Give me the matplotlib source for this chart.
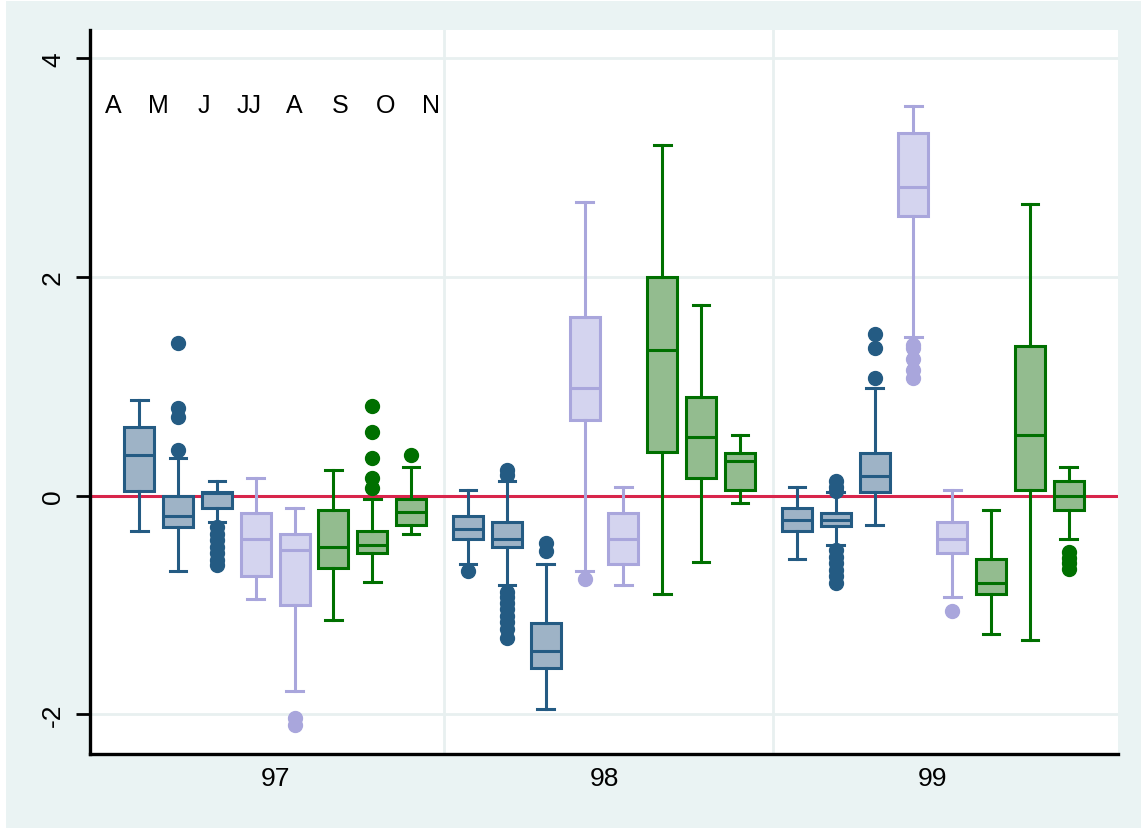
import matplotlib
matplotlib.use("Agg")
import matplotlib.pyplot as plt
import numpy as np

years = ["97", "98", "99"]
months = ["A", "M", "J", "JJ", "A", "S", "O", "N"]

# per year, one value per month
whishi_97 = [0.87, 0.34, 0.13, 0.16, -0.11, 0.23, -0.03, 0.26]
q3_97 = [0.63, 0.00, 0.03, -0.16, -0.35, -0.13, -0.32, -0.03]
med_97 = [0.37, -0.19, 0.02, -0.40, -0.50, -0.47, -0.45, -0.15]
q1_97 = [0.04, -0.29, -0.11, -0.74, -1.00, -0.66, -0.53, -0.27]
whislo_97 = [-0.32, -0.69, -0.24, -0.95, -1.79, -1.14, -0.79, -0.35]
fliers_97 = [[], [1.40, 0.80, 0.72, 0.42],
             [-0.29, -0.35, -0.41, -0.47, -0.53, -0.59, -0.64],
             [], [-2.04, -2.10], [], [0.82, 0.58, 0.34, 0.16, 0.07], [0.37]]

whishi_98 = [0.05, 0.13, -0.63, 2.69, 0.08, 3.21, 1.74, 0.55]
q3_98 = [-0.19, -0.24, -1.17, 1.63, -0.16, 2.00, 0.90, 0.39]
med_98 = [-0.31, -0.40, -1.42, 0.98, -0.40, 1.33, 0.54, 0.32]
q1_98 = [-0.40, -0.47, -1.58, 0.69, -0.63, 0.40, 0.16, 0.05]
whislo_98 = [-0.63, -0.82, -1.95, -0.69, -0.82, -0.90, -0.61, -0.07]
fliers_98 = [[-0.69],
             [0.23, 0.19, -0.88, -0.93, -0.98, -1.04, -1.10, -1.16, -1.22, -1.30],
             [-0.43, -0.51], [-0.76], [], [], [], []]

whishi_99 = [0.08, 0.03, 0.98, 3.56, 0.05, -0.13, 2.67, 0.26]
q3_99 = [-0.11, -0.16, 0.39, 3.32, -0.24, -0.58, 1.37, 0.13]
med_99 = [-0.22, -0.22, 0.18, 2.82, -0.40, -0.80, 0.55, 0.00]
q1_99 = [-0.32, -0.28, 0.03, 2.56, -0.53, -0.90, 0.05, -0.13]
whislo_99 = [-0.58, -0.45, -0.27, 1.45, -0.93, -1.27, -1.32, -0.40]
fliers_99 = [[], [0.13, 0.08, 0.04, -0.50, -0.56, -0.62, -0.68, -0.74, -0.80],
             [1.48, 1.35, 1.08], [1.38, 1.35, 1.25, 1.15, 1.08], [-1.06], [], [],
             [-0.52, -0.57, -0.62, -0.67]]

stats_by_year = [
    (whislo_97, q1_97, med_97, q3_97, whishi_97, fliers_97),
    (whislo_98, q1_98, med_98, q3_98, whishi_98, fliers_98),
    (whislo_99, q1_99, med_99, q3_99, whishi_99, fliers_99),
]

# month -> colour family (edge, fill)
blue = ("#245b83", "#9eb3c6")
lav = ("#a9a6dc", "#d4d4ef")
green = ("#007000", "#93bc8f")
month_style = [blue, blue, blue, lav, lav, green, green, green]

bg = "#eaf3f3"
grid_c = "#e8f0f0"
group_step = 8.47
box_w = 0.77

fig = plt.figure(figsize=(11.41, 8.29), dpi=100, facecolor="white")
fig.patches.append(plt.Rectangle((6 / 1141, 0), 1, 1 - 2 / 829, transform=fig.transFigure,
                                 facecolor=bg, edgecolor="none", zorder=-10))
ax = fig.add_axes([90 / 1141, 1 - 755 / 829, (1118 - 90) / 1141, (755 - 31) / 829])
ax.set_facecolor("white")

for g, (wlo, q1, med, q3, whi, fl) in enumerate(stats_by_year):
    for m in range(len(months)):
        edge, fill = month_style[m]
        st = [dict(whislo=wlo[m], q1=q1[m], med=med[m], q3=q3[m], whishi=whi[m], fliers=fl[m])]
        pos = g * group_step + (m - 3.5)
        ax.bxp(st, positions=[pos], widths=box_w, patch_artist=True, manage_ticks=False,
               capwidths=0.43,
               boxprops=dict(facecolor=fill, edgecolor=edge, linewidth=2.2),
               medianprops=dict(color=edge, linewidth=2.2),
               whiskerprops=dict(color=edge, linewidth=2.2),
               capprops=dict(color=edge, linewidth=2.2),
               flierprops=dict(marker="o", markerfacecolor=edge, markeredgecolor=edge,
                               markersize=10),
               zorder=3)

ax.set_xlim(-4.77, 2 * group_step + 4.77)
ax.set_ylim(-2.365, 4.26)

for y in [-2, 2, 4]:
    ax.axhline(y, color=grid_c, lw=2, zorder=1)
for g in range(1, len(years)):
    ax.axvline((g - 0.5) * group_step + 0.12, color=grid_c, lw=2, zorder=1)
ax.axhline(0, color="#d8254b", lw=2.2, zorder=2)

ax.set_yticks([-2, 0, 2, 4])
ax.set_yticklabels(["-2", "0", "2", "4"], rotation=90, va="center",
                   fontsize=19, family="Liberation Sans")
ax.set_xticks([g * group_step for g in range(len(years))])
ax.set_xticklabels(years, fontsize=19, family="Liberation Sans")
ax.tick_params(axis="y", length=10, width=2, pad=8)
ax.tick_params(axis="x", length=0, pad=9)

for s in ["top", "right"]:
    ax.spines[s].set_visible(False)
for s in ["left", "bottom"]:
    ax.spines[s].set_linewidth(2.4)

for i, lab in enumerate(months):
    ax.text(-4.18 + 1.17 * i, 3.57, lab, ha="center", va="center",
            fontsize=18, family="Liberation Sans")

fig.savefig("out.png", dpi=100, facecolor=fig.get_facecolor())
